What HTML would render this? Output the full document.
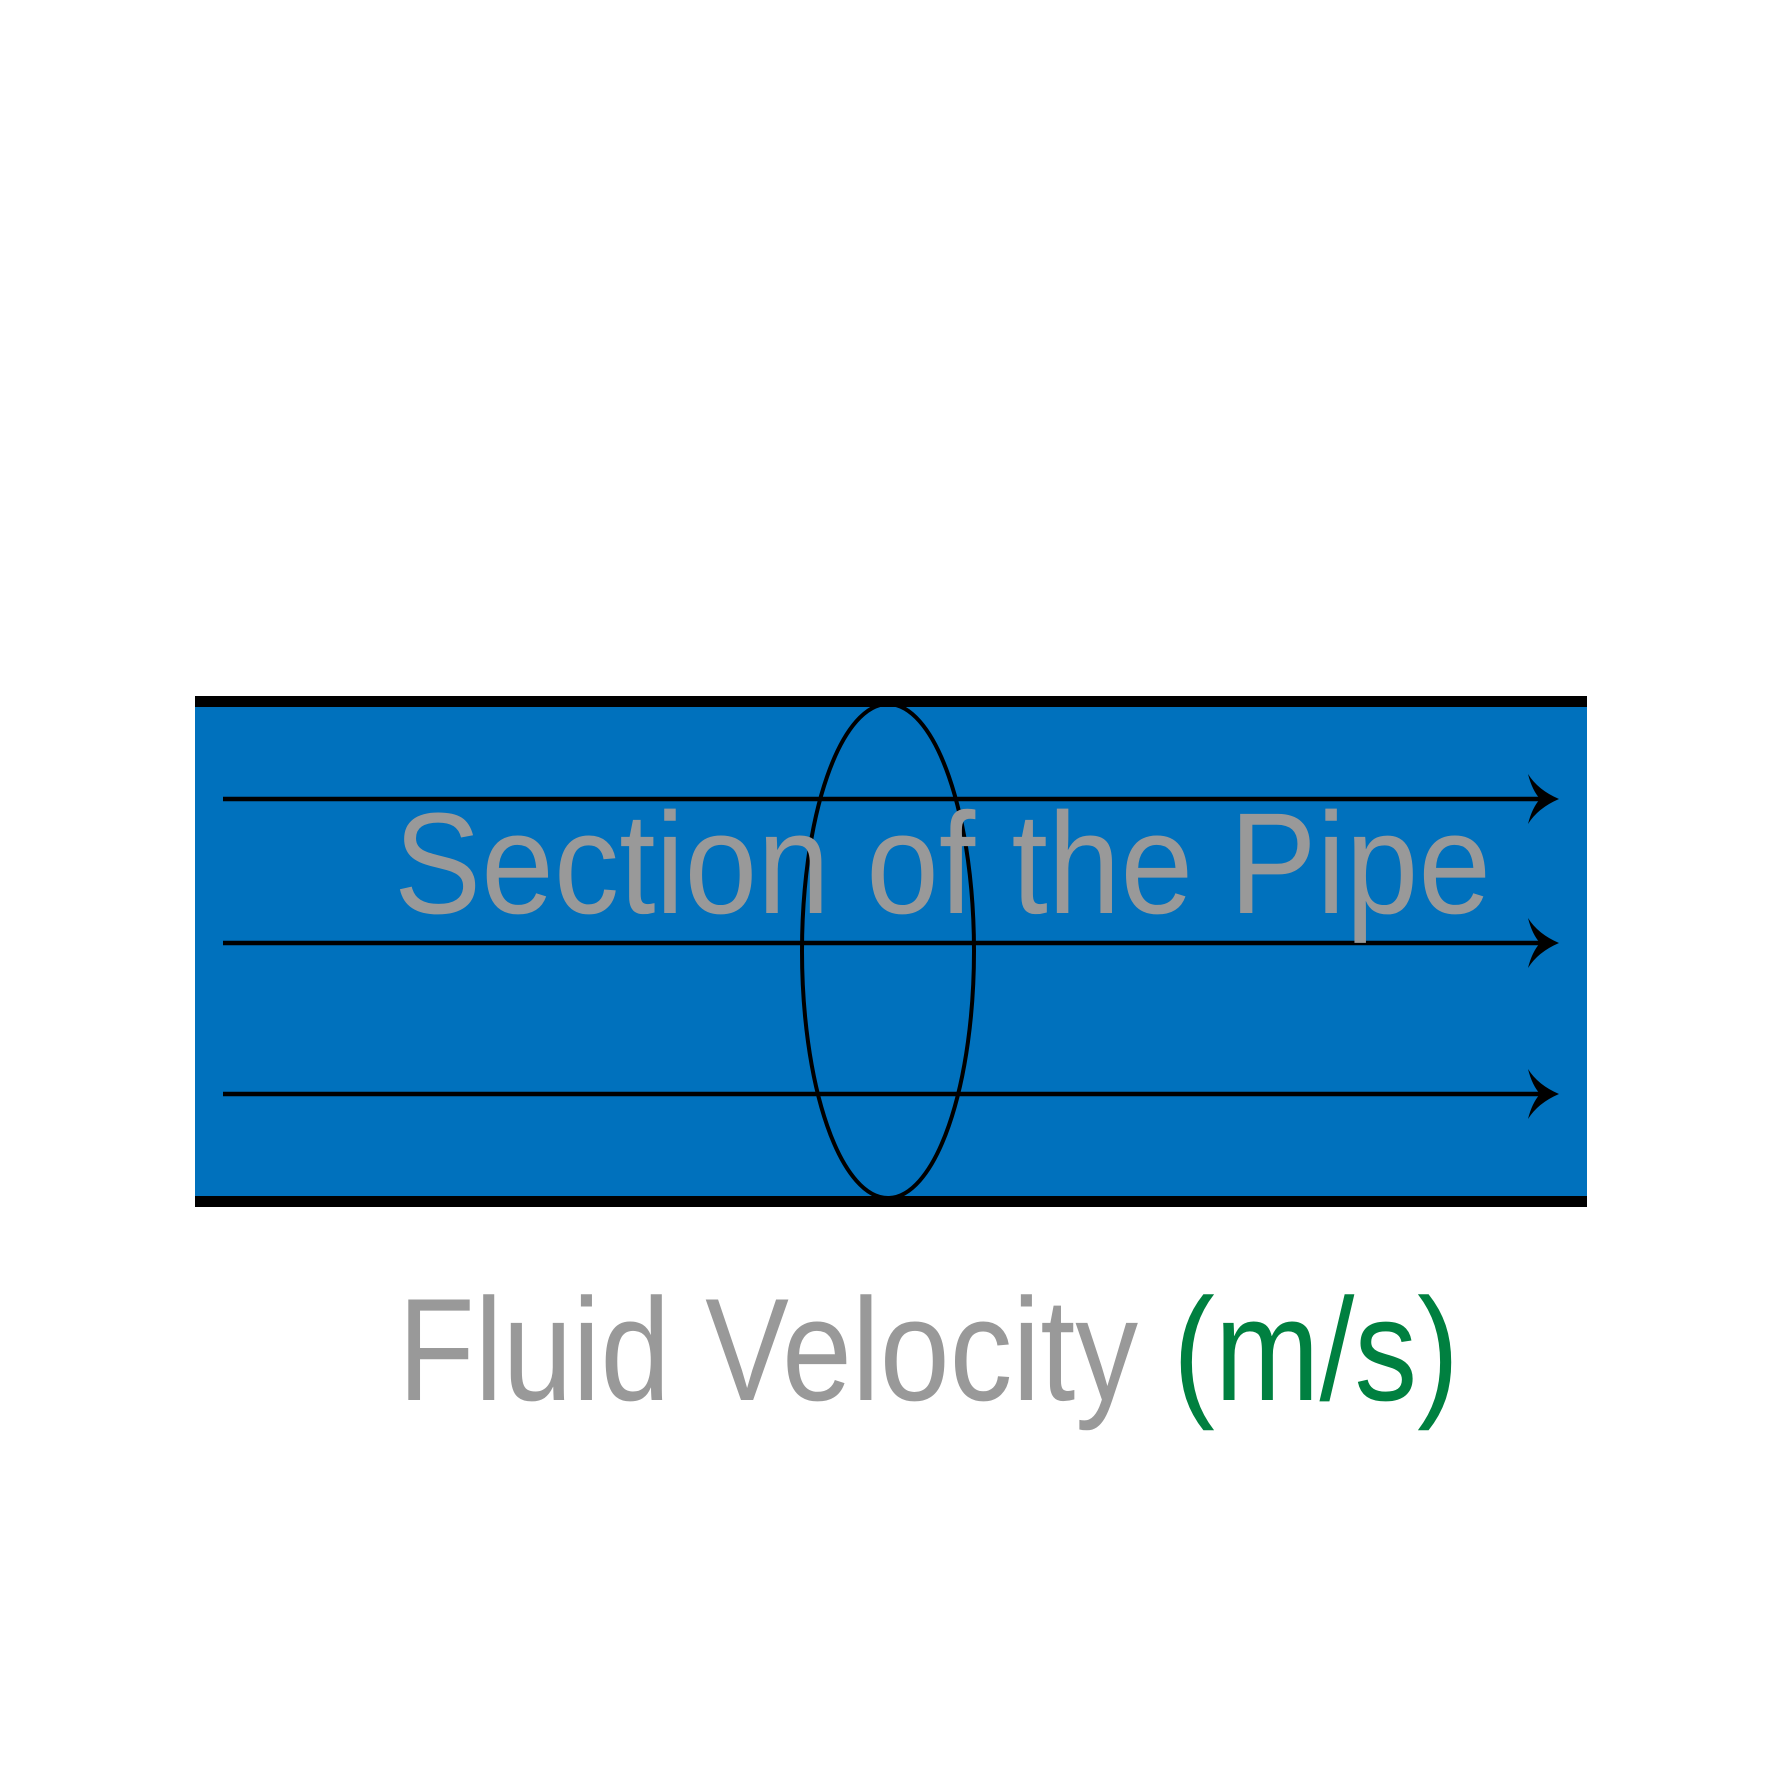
<!DOCTYPE html>
<html><head><meta charset="utf-8"><style>
html,body{margin:0;padding:0;background:#fff;}
svg{display:block;}
text{font-family:"Liberation Sans",sans-serif;}
</style></head><body>
<svg width="1782" height="1782" viewBox="0 0 1782 1782">
<rect x="195" y="700" width="1392" height="503" fill="#0071bd"/>
<rect x="195" y="696" width="1392" height="11" fill="#000"/>
<rect x="195" y="1196" width="1392" height="11" fill="#000"/>
<g>
<line x1="223" y1="799" x2="1545" y2="799" stroke="#000" stroke-width="4.5"/>
<path d="M1559,799 Q1538,790 1528,774 Q1532,790 1540,799 Q1532,808 1528,824 Q1538,808 1559,799Z" fill="#000"/>
</g>
<g>
<line x1="223" y1="943" x2="1545" y2="943" stroke="#000" stroke-width="4.5"/>
<path d="M1559,943 Q1538,934 1528,918 Q1532,934 1540,943 Q1532,952 1528,968 Q1538,952 1559,943Z" fill="#000"/>
</g>
<g>
<line x1="223" y1="1094" x2="1545" y2="1094" stroke="#000" stroke-width="4.5"/>
<path d="M1559,1094 Q1538,1085 1528,1069 Q1532,1085 1540,1094 Q1532,1103 1528,1119 Q1538,1103 1559,1094Z" fill="#000"/>
</g>
<ellipse cx="888" cy="951" rx="86" ry="247" fill="none" stroke="#000" stroke-width="4"/>
<text x="394" y="913" font-size="144" fill="#999999" textLength="1097" lengthAdjust="spacingAndGlyphs">Section of the Pipe</text>
<text x="398" y="1400" font-size="146" textLength="1061" lengthAdjust="spacingAndGlyphs"><tspan fill="#999999">Fluid Velocity </tspan><tspan fill="#008040">(m/s)</tspan></text>
</svg>
</body></html>
